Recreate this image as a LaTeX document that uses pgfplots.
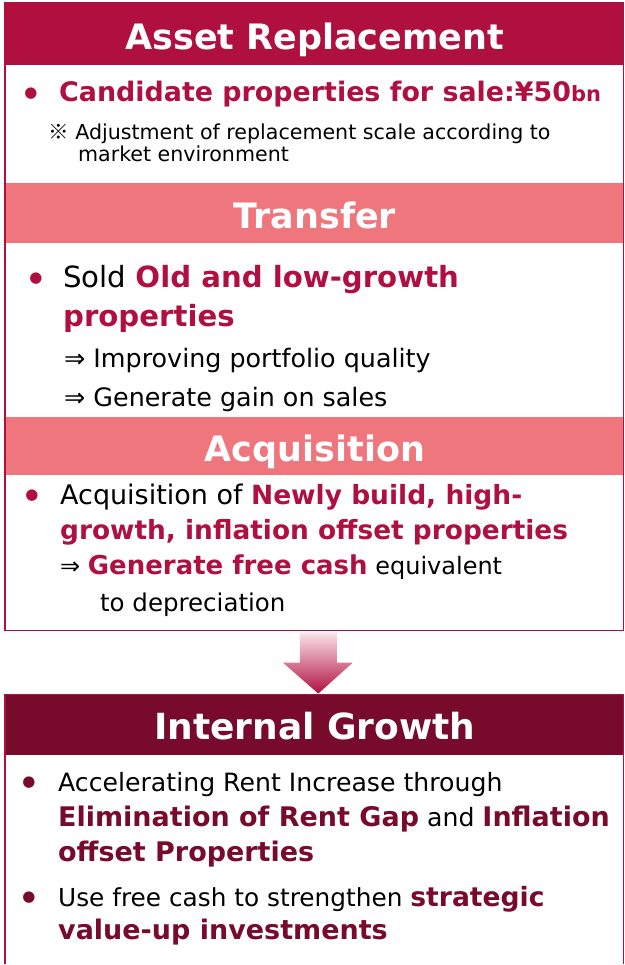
\documentclass[border=0pt]{standalone}
\usepackage{fontspec}
\setmainfont{DejaVu Sans}
\newfontfamily\cjk{Noto Sans CJK JP}
\newfontfamily\sym{DejaVu Sans}
\usepackage{pgfplots}
\pgfplotsset{compat=1.18}
\definecolor{crim}{HTML}{B01040}
\definecolor{salmon}{HTML}{F0767E}
\definecolor{maroon}{HTML}{780A2C}
\definecolor{pale}{HTML}{FBE3E8}
\newcommand{\fs}[1]{\fontsize{#1}{#1}\selectfont}
\begin{document}
\begin{tikzpicture}
\begin{axis}[hide axis, scale only axis, width=625pt, height=965pt,
  xmin=0, xmax=625, ymin=0, ymax=965, y dir=reverse, clip=false]
\path (axis cs:0,0) (axis cs:625,965);
% boxes and bands
\fill[crim] (axis cs:5,3) rectangle (axis cs:624,65);
\fill[salmon] (axis cs:5,183) rectangle (axis cs:624,243);
\fill[salmon] (axis cs:5,417) rectangle (axis cs:624,475);
\draw[crim, line width=1.2pt] (axis cs:5,3) rectangle (axis cs:624,631);
\fill[maroon] (axis cs:5,695) rectangle (axis cs:624,755);
\draw[crim, line width=1.2pt] (axis cs:5,965) -- (axis cs:5,695) -- (axis cs:624,695) -- (axis cs:624,965);
% arrow
\shade[top color=pale, bottom color=crim] (axis cs:300,633) -- (axis cs:337,633) -- (axis cs:337,663) -- (axis cs:353,663) -- (axis cs:318.5,694) -- (axis cs:283,663) -- (axis cs:300,663) -- cycle;
% headers
\node[anchor=base, inner sep=0, text=white, font=\fs{35}\bfseries] at (axis cs:315,50) {Asset Replacement};
\node[anchor=base, inner sep=0, text=white, font=\fs{35}\bfseries] at (axis cs:315,229) {Transfer};
\node[anchor=base, inner sep=0, text=white, font=\fs{35}\bfseries] at (axis cs:315,462) {Acquisition};
\node[anchor=base, inner sep=0, text=white, font=\fs{36}\bfseries] at (axis cs:315,740) {Internal Growth};
% section 1
\node[anchor=center, inner sep=0, text=crim, font=\sym\fs{15}] at (axis cs:31,94) {●};
\node[anchor=base west, inner sep=0, text=crim, font=\fs{26.9}\bfseries] at (axis cs:59,102) {Candidate properties for sale:¥50{\fs{21}bn}};
\node[anchor=base west, inner sep=0, font=\fs{20.6}] at (axis cs:48,140) {{\cjk ※} Adjustment of replacement scale according to};
\node[anchor=base west, inner sep=0, font=\fs{20.6}] at (axis cs:78,162) {market environment};
% section 2
\node[anchor=center, inner sep=0, text=crim, font=\sym\fs{15}] at (axis cs:36,279) {●};
\node[anchor=base west, inner sep=0, font=\fs{29.2}] at (axis cs:63,288) {Sold {\color{crim}\bfseries Old and low-growth}};
\node[anchor=base west, inner sep=0, text=crim, font=\fs{29.2}\bfseries] at (axis cs:63,327) {properties};
\node[anchor=base west, inner sep=0, font=\fs{25.4}] at (axis cs:64,368) {{\sym ⇒} Improving portfolio quality};
\node[anchor=base west, inner sep=0, font=\fs{25.4}] at (axis cs:64,407) {{\sym ⇒} Generate gain on sales};
% section 3
\node[anchor=center, inner sep=0, text=crim, font=\sym\fs{15}] at (axis cs:32,496) {●};
\node[anchor=base west, inner sep=0, font=\fs{27}] at (axis cs:60,505) {Acquisition of {\color{crim}\fs{26.5}\bfseries Newly build, high-}};
\node[anchor=base west, inner sep=0, text=crim, font=\fs{26.4}\bfseries] at (axis cs:60,540) {growth, inflation offset properties};
\node[anchor=base west, inner sep=0, font=\fs{24}] at (axis cs:60,575) {{\sym ⇒} {\color{crim}\fs{26}\bfseries Generate free cash} equivalent};
\node[anchor=base west, inner sep=0, font=\fs{24.5}] at (axis cs:100,612) {to depreciation};
% section 4
\node[anchor=center, inner sep=0, text=maroon, font=\sym\fs{15}] at (axis cs:29,783) {●};
\node[anchor=base west, inner sep=0, font=\fs{25.2}] at (axis cs:58,792) {Accelerating Rent Increase through};
\node[anchor=base west, inner sep=0, font=\fs{25.2}] at (axis cs:58,827) {{\color{maroon}\fs{27}\bfseries Elimination of Rent Gap} and {\color{maroon}\fs{27}\bfseries Inflation}};
\node[anchor=base west, inner sep=0, text=maroon, font=\fs{27}\bfseries] at (axis cs:58,862) {offset Properties};
\node[anchor=center, inner sep=0, text=maroon, font=\sym\fs{15}] at (axis cs:29,898) {●};
\node[anchor=base west, inner sep=0, font=\fs{24.8}] at (axis cs:58,907) {Use free cash to strengthen {\color{maroon}\fs{26.6}\bfseries strategic}};
\node[anchor=base west, inner sep=0, text=maroon, font=\fs{27}\bfseries] at (axis cs:58,940) {value-up investments};
\end{axis}
\end{tikzpicture}
\end{document}
